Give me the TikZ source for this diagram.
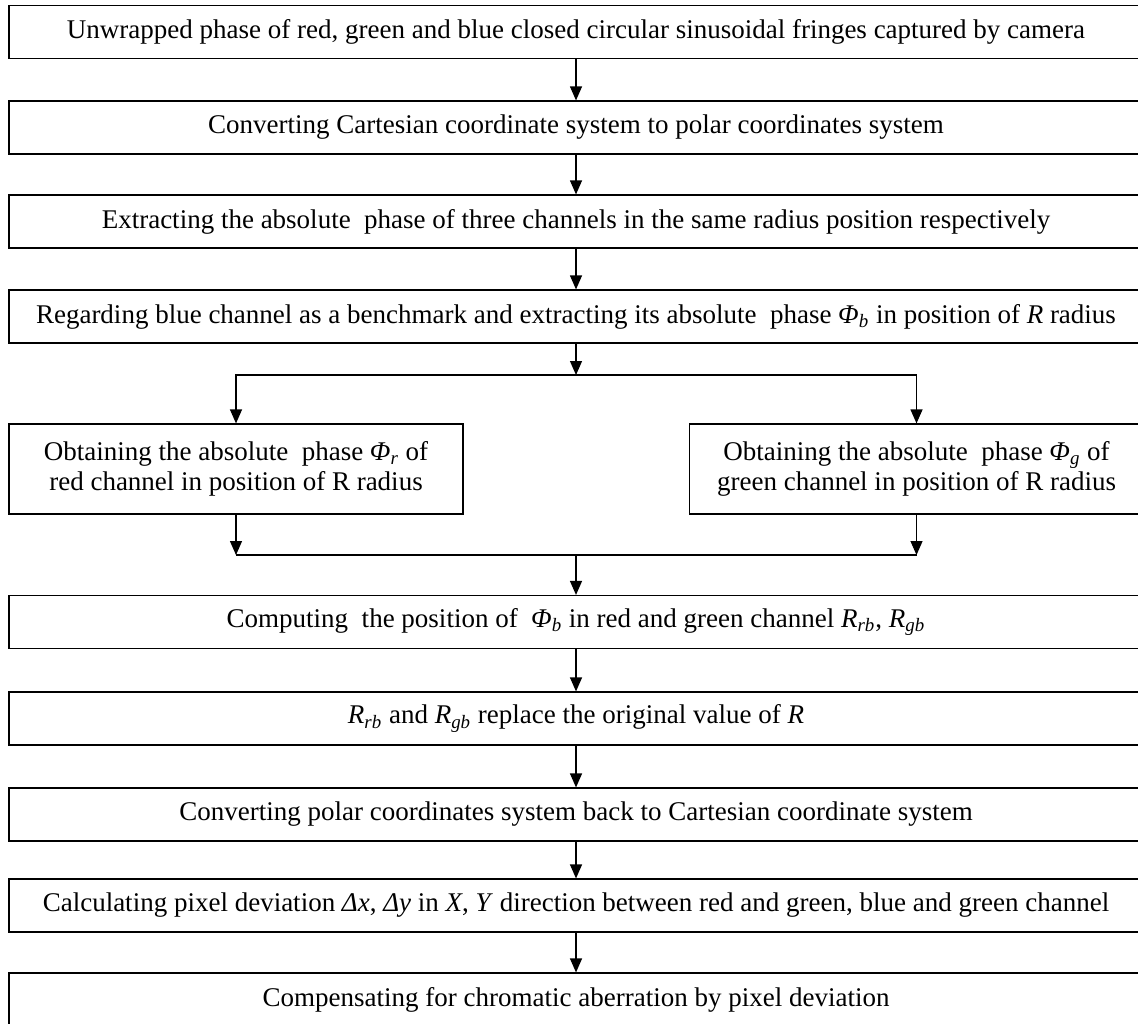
\documentclass[tikz,border=0pt]{standalone}
\usepackage{fontspec}
\setmainfont{Liberation Serif}
\usetikzlibrary{arrows.meta}

\newcommand{\isub}[2]{\textit{#1}\textsubscript{\textit{#2}}}

\begin{document}
\begin{tikzpicture}[x=0.5pt, y=-0.5pt, line width=0.6pt,
  every node/.style={font=\fontsize{13.5}{15}\selectfont},
  stepbox/.style={draw, inner sep=0pt, minimum width=567pt, minimum height=26.5pt},
  sidebox/.style={draw, inner sep=0pt, minimum width=227pt, minimum height=45pt, align=center},
  >={Triangle[length=7pt, width=6pt]}]

  \useasboundingbox (0,0) rectangle (1138,1023);
  \clip (0,0) rectangle (1138,1023);

  % main steps
  \node[stepbox] (unwrap) at (576, 32)
    {Unwrapped phase of red, green and blue closed circular sinusoidal fringes captured by camera};
  \node[stepbox] (topolar) at (576, 127.5)
    {Converting Cartesian coordinate system to polar coordinates system};
  \node[stepbox] (extract) at (576, 221.5)
    {Extracting the absolute \ phase of three channels in the same radius position respectively};
  \node[stepbox] (bench) at (576, 316.5)
    {Regarding blue channel as a benchmark and extracting its absolute \ phase \isub{Φ}{b} in position of \textit{R} radius};

  % the two branches
  \node[sidebox] (red) at (236, 469)
    {Obtaining the absolute \ phase \isub{Φ}{r} of\\red channel in position of R radius};
  \node[sidebox] (green) at (916.5, 469)
    {Obtaining the absolute \ phase \isub{Φ}{g} of\\green channel in position of R radius};

  \node[stepbox] (compute) at (576, 622)
    {Computing \ the position of \ \isub{Φ}{b} in red and green channel \isub{R}{rb}, \isub{R}{gb}};
  \node[stepbox] (replace) at (576, 718.5)
    {\isub{R}{rb} and \isub{R}{gb} replace the original value of \textit{R}};
  \node[stepbox] (tocart) at (576, 814.5)
    {Converting polar coordinates system back to Cartesian coordinate system};
  \node[stepbox] (deviat) at (576, 905.5)
    {Calculating pixel deviation \textit{Δx}, \textit{Δy} in \textit{X}, \textit{Y} direction between red and green, blue and green channel};
  \node[stepbox] (compens) at (576, 999.5)
    {Compensating for chromatic aberration by pixel deviation};

  % split and merge points
  \coordinate (split) at (576, 375);
  \coordinate (merge) at (576, 555);
  \coordinate (mleft) at (red |- merge);
  \coordinate (mright) at (green |- merge);

  \draw[->] (unwrap) -- (topolar);
  \draw[->] (topolar) -- (extract);
  \draw[->] (extract) -- (bench);
  \draw[->] (bench) -- (split);
  \draw[->] (split) -| (red);
  \draw[->] (split) -| (green);
  \draw[->] (red) -- (mleft);
  \draw[->] (green) -- (mright);
  \draw (mleft) -- (mright);
  \draw[->] (merge) -- (compute);
  \draw[->] (compute) -- (replace);
  \draw[->] (replace) -- (tocart);
  \draw[->] (tocart) -- (deviat);
  \draw[->] (deviat) -- (compens);
\end{tikzpicture}
\end{document}
